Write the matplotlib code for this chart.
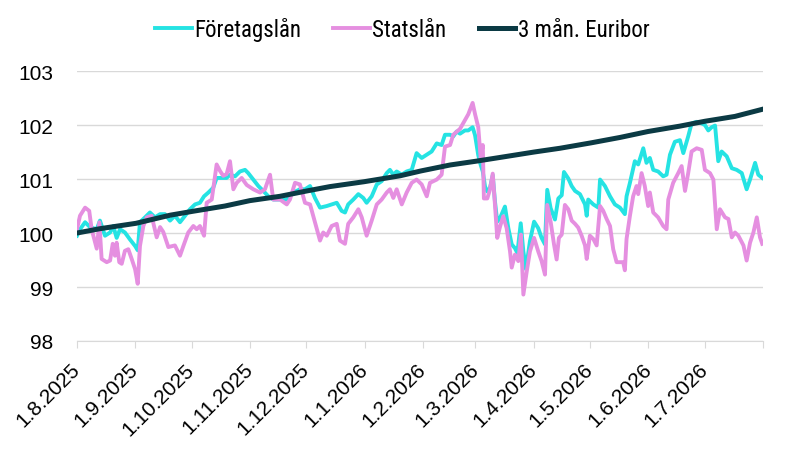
import matplotlib
matplotlib.use("Agg")
import matplotlib.pyplot as plt
import pandas as pd

# days since 1.8.2025 and index values
stat_days = [0, 1.6, 4.3, 6.5, 7.8, 10.5, 11.9, 13.1, 15.8, 17.6, 19.0, 20.2, 21.1, 22.5, 23.8, 25.5,
             27.3, 29.1, 30.9, 32.3, 33.5, 35.3, 37.1, 39.7, 42.4, 44.2, 45.9, 48.6, 52.1, 54.8, 56.6,
             59.2, 61.9, 63.7, 65.4, 67.6, 69.0, 71.7, 74.3, 76.1, 77.8, 79.6, 81.4, 83.2, 85.0, 87.6,
             90.3, 93.8, 97.4, 100.0, 102.7, 104.4, 108.0, 111.6, 113.3, 116.0, 118.6, 121.3, 124.0,
             126.6, 129.3, 131.0, 132.9, 135.5, 138.2, 139.9, 142.6, 144.3, 147.0, 149.7, 151.5, 154.1,
             156.8, 159.5, 162.1, 164.8, 166.5, 168.3, 170.1, 172.8, 175.4, 178.1, 180.7, 183.4, 186.1,
             187.8, 191.4, 194.0, 195.8, 198.5, 200.2, 203.8, 206.4, 208.2, 210.5, 211.8, 213.5, 214.8,
             215.9, 216.5, 218.3, 219.7, 221.2, 222.4, 223.6, 225.1, 226.8, 228.6, 230.4, 231.3, 233.0,
             234.8, 236.2, 237.5, 239.3, 241.0, 243.2, 245.4, 247.2, 249.0, 250.2, 252.0, 253.8, 255.2,
             256.4, 257.9, 259.6, 261.4, 263.2, 265.0, 266.7, 268.5, 270.3, 271.2, 272.9, 274.7, 276.5,
             278.3, 280.0, 281.8, 283.6, 285.3, 287.1, 288.9, 290.6, 291.5, 292.4, 294.2, 295.9, 297.7,
             298.6, 300.4, 302.1, 303.9, 304.8, 306.6, 309.2, 311.9, 313.7, 314.6, 317.2, 319.9, 321.7,
             323.5, 325.2, 327.0, 329.7, 332.4, 334.1, 336.8, 338.6, 340.4, 342.1, 344.8, 346.6, 348.4,
             350.1, 351.9, 354.6, 356.3, 358.1, 359.9, 361.7, 363.4, 364.6]
statslan = [100.07, 100.32, 100.47, 100.41, 100.07, 99.71, 100.20, 99.52, 99.46, 99.49, 99.80, 99.58,
            99.82, 99.46, 99.43, 99.67, 99.70, 99.52, 99.33, 99.06, 99.76, 100.13, 100.29, 100.32, 99.92,
            100.11, 100.02, 99.74, 99.77, 99.58, 99.76, 100.01, 100.13, 100.07, 100.13, 99.95, 100.56,
            100.62, 101.27, 101.15, 101.06, 101.09, 101.33, 100.81, 100.93, 101.02, 100.89, 100.81,
            100.75, 100.81, 101.08, 100.62, 100.62, 100.53, 100.62, 100.93, 100.90, 100.56, 100.53,
            100.20, 99.86, 100.01, 99.95, 100.13, 100.17, 99.86, 99.80, 100.17, 100.29, 100.44, 100.29,
            99.95, 100.23, 100.53, 100.62, 100.75, 100.81, 100.65, 100.81, 100.53, 100.75, 100.93,
            100.99, 100.90, 100.68, 100.93, 100.99, 101.08, 101.60, 101.63, 101.82, 101.93, 102.09,
            102.20, 102.41, 102.20, 101.96, 101.38, 101.63, 100.64, 100.64, 100.80, 101.10, 100.52,
            99.91, 100.12, 100.31, 100.09, 99.66, 99.36, 99.60, 99.48, 99.97, 98.86, 99.29, 99.66,
            99.91, 99.66, 99.48, 99.23, 100.52, 100.21, 99.79, 99.51, 99.91, 99.97, 100.52, 100.44,
            100.23, 100.17, 100.10, 99.95, 99.77, 99.52, 99.95, 99.89, 99.77, 100.50, 100.41, 100.26,
            100.13, 99.70, 99.46, 99.46, 99.46, 99.31, 99.89, 100.32, 100.68, 100.87, 100.72, 101.11,
            100.87, 100.50, 100.75, 100.38, 100.29, 100.13, 100.07, 100.62, 100.93, 101.11, 101.24,
            100.78, 101.11, 101.51, 101.57, 101.54, 101.17, 101.11, 100.99, 100.07, 100.44, 100.29,
            100.26, 99.92, 100.01, 99.95, 99.77, 99.49, 99.82, 100.01, 100.29, 99.92, 99.80]

foretag_days = [0, 1.6, 4.3, 6.9, 10.5, 12.2, 14.9, 17.6, 19.3, 21.1, 22.9, 25.5, 28.2, 30.9, 32.3,
                33.5, 36.2, 38.8, 41.5, 44.2, 46.8, 49.5, 52.1, 54.8, 57.5, 60.1, 62.8, 65.4, 67.6,
                69.9, 72.5, 74.3, 77.0, 79.6, 81.4, 84.1, 86.7, 89.4, 91.1, 93.8, 96.5, 99.1, 101.8,
                104.4, 108.0, 111.6, 115.1, 118.6, 121.3, 124.0, 126.6, 129.3, 132.9, 135.5, 138.2,
                140.8, 142.6, 144.3, 147.0, 149.7, 152.3, 154.1, 156.8, 159.5, 162.1, 164.8, 166.5,
                168.3, 170.1, 172.8, 175.4, 178.1, 180.7, 183.4, 186.1, 188.7, 191.4, 194.0, 195.8,
                198.5, 200.2, 202.0, 203.8, 206.4, 208.2, 210.5, 211.8, 213.5, 214.8, 215.9, 217.1,
                218.3, 219.7, 221.2, 222.4, 223.6, 225.1, 227.7, 229.5, 231.3, 233.0, 234.3, 236.1,
                237.5, 238.9, 241.0, 243.2, 245.4, 247.2, 249.0, 250.2, 252.0, 254.3, 256.1, 257.9,
                259.1, 261.4, 263.2, 265.0, 267.6, 270.3, 271.2, 272.0, 274.7, 277.4, 278.3, 280.9,
                283.6, 286.2, 288.9, 291.5, 292.4, 294.2, 296.8, 298.6, 301.3, 303.0, 304.8, 306.6,
                309.2, 311.9, 313.7, 315.5, 318.1, 320.8, 322.6, 325.2, 327.0, 329.7, 332.4, 334.1,
                335.9, 337.7, 339.5, 341.2, 343.0, 345.7, 348.4, 351.0, 353.7, 356.3, 358.1, 360.8,
                362.5, 364.6]
foretagslan = [99.95, 100.07, 100.20, 100.11, 100.07, 100.23, 99.95, 100.01, 100.13, 99.91, 100.07,
               100.01, 99.88, 99.76, 99.68, 100.20, 100.29, 100.38, 100.29, 100.35, 100.35, 100.23,
               100.32, 100.20, 100.32, 100.44, 100.53, 100.56, 100.68, 100.75, 100.84, 101.02, 101.02,
               101.02, 101.08, 101.05, 101.14, 101.17, 101.11, 100.99, 100.87, 100.78, 100.68, 100.62,
               100.62, 100.62, 100.75, 100.81, 100.81, 100.87, 100.65, 100.47, 100.50, 100.53, 100.56,
               100.41, 100.38, 100.53, 100.62, 100.72, 100.65, 100.56, 100.68, 100.90, 100.96, 101.11,
               101.17, 101.08, 101.14, 101.08, 101.14, 101.17, 101.48, 101.39, 101.45, 101.51, 101.66,
               101.63, 101.82, 101.82, 101.79, 101.88, 101.84, 101.90, 101.90, 101.96, 101.81, 101.44,
               101.26, 101.14, 100.86, 100.77, 100.83, 101.07, 100.58, 100.21, 100.28, 100.49, 100.09,
               99.79, 99.72, 99.63, 100.18, 99.66, 99.33, 99.85, 100.21, 100.09, 99.91, 99.79, 100.80,
               100.46, 100.25, 100.64, 100.70, 101.13, 101.01, 100.87, 100.78, 100.72, 100.53, 100.32,
               100.62, 100.53, 100.47, 100.99, 100.87, 100.68, 100.53, 100.47, 100.35, 100.68, 100.93,
               101.33, 101.27, 101.57, 101.30, 101.39, 101.17, 101.14, 101.05, 101.08, 101.45, 101.69,
               101.72, 101.48, 101.79, 102.03, 102.06, 102.03, 102.00, 101.90, 101.96, 101.99, 101.33,
               101.51, 101.42, 101.20, 101.17, 101.11, 100.81, 100.99, 101.30, 101.08, 101.02]

euribor_days = [0, 12.2, 31.4, 49.5, 61.2, 78.7, 92.0, 108.0, 122.4, 134.6, 152.7, 171.9, 183.0,
                198.5, 212.3, 225.1, 243.2, 257.0, 273.5, 288.9, 303.8, 320.8, 334.1, 350.1, 364.5]
euribor = [100.00, 100.08, 100.18, 100.33, 100.40, 100.50, 100.60, 100.68, 100.78, 100.86, 100.95,
           101.06, 101.15, 101.26, 101.33, 101.40, 101.50, 101.57, 101.67, 101.77, 101.88, 101.98,
           102.07, 102.16, 102.29]

start = pd.Timestamp("2025-08-01")
month_ticks = pd.date_range("2025-08-01", "2026-08-01", freq="MS")
tick_labels = [f"{d.day}.{d.month}.{d.year}" for d in month_ticks[:-1]] + [""]


def to_dates(days):
    return start + pd.to_timedelta(days, unit="D")


plt.rcParams['font.family'] = ['Liberation Sans', 'DejaVu Sans']

fig = plt.figure(figsize=(8, 4.56), dpi=100)
ax = fig.add_axes([0.09625, 0.25, 0.8575, 0.592])

ax.plot(to_dates(foretag_days), foretagslan, color='#25E3E3', lw=2.8, label='Företagslån')
ax.plot(to_dates(stat_days), statslan, color='#E58FE0', lw=2.8, label='Statslån')
ax.plot(to_dates(euribor_days), euribor, color='#0B3A44', lw=3.6, label='3 mån. Euribor')

ax.set_ylim(98, 103)
ax.set_xlim(month_ticks[0], month_ticks[-1])
ax.set_yticks([98, 99, 100, 101, 102, 103])
ax.set_xticks(month_ticks)
ax.set_xticklabels(tick_labels, rotation=45, ha='right', va='center', rotation_mode='anchor')

ax.grid(axis='y', color='#D9D9D9', lw=1)
ax.set_axisbelow(True)
for s in ['top', 'right', 'left']:
    ax.spines[s].set_visible(False)
ax.spines['bottom'].set_color('#D9D9D9')
ax.tick_params(axis='y', length=0, pad=17, labelsize=15)
ax.tick_params(axis='x', length=5, color='#D9D9D9', pad=13, labelsize=15)

fig.legend(loc='center', bbox_to_anchor=(0.503, 0.935), ncol=3, frameon=False,
           handlelength=1.6, handletextpad=0.1, columnspacing=1.4,
           prop={'family': ['Roboto Condensed', 'Archivo Narrow', 'DejaVu Sans'], 'size': 16.5})

fig.savefig('out.png', dpi=100)
